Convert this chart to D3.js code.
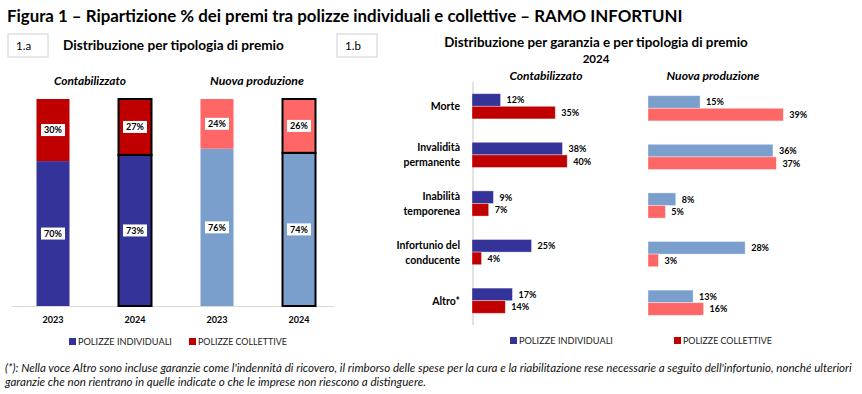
<!DOCTYPE html>
<html>
<head>
<meta charset="utf-8">
<script src="https://cdn.jsdelivr.net/npm/d3@7"></script>
<style>
  body { margin: 0; background: #fff; }
  svg { display: block; }
</style>
</head>
<body>
<script>
const width = 862
const height = 394
const font = 'Lato, "Open Sans", sans-serif'

// 1.a data
const barKeys = ['c2023', 'c2024', 'n2023', 'n2024']
const barYears = ['2023', '2024', '2023', '2024']
const individuali1a = [70, 73, 76, 74]
const collettive1a = [30, 27, 24, 26]

// 1.b data
const categories = ['Morte', 'Invalidità permanente', 'Inabilità temporenea', 'Infortunio del conducente', 'Altro*']
const categoryLines = [['Morte'], ['Invalidità', 'permanente'], ['Inabilità', 'temporenea'], ['Infortunio del', 'conducente'], ['Altro*']]
const contIndividuali = [12, 38, 9, 25, 17]
const contCollettive = [35, 40, 7, 4, 14]
const nuovaIndividuali = [15, 36, 8, 28, 13]
const nuovaCollettive = [39, 37, 5, 3, 16]

const colDarkBlue = '#333399'
const colRed = '#C00000'
const colLightBlue = '#7A9FCD'
const colSalmon = '#FF6666'

const svg = d3.select('body').append('svg')
    .attr('width', width)
    .attr('height', height)

// shrink/grow the font size until the text is as wide as target
function fitWidth(sel, target) {
    let w = sel.node().getComputedTextLength()
    let fs = parseFloat(sel.attr('font-size'))
    sel.attr('font-size', fs * target / w)
    return sel
}

function addText(x, y, txt, size, opts = {}) {
    const t = svg.append('text')
        .attr('x', x)
        .attr('y', y)
        .attr('font-family', font)
        .attr('font-size', size)
        .attr('font-weight', opts.weight || 'normal')
        .attr('font-style', opts.style || 'normal')
        .attr('text-anchor', opts.anchor || 'start')
        .attr('fill', opts.fill || '#000')
        .text(txt)
    if (opts.fit) fitWidth(t, opts.fit)
    return t
}

// Title
addText(7, 22, 'Figura 1 – Ripartizione % dei premi tra polizze individuali e collettive – RAMO INFORTUNI', 17, {weight: 'bold', fit: 676})

// Panel tags
function tagBox(x, label) {
    svg.append('rect')
        .attr('x', x).attr('y', 34)
        .attr('width', 40).attr('height', 23)
        .attr('fill', '#fff')
        .attr('stroke', '#d0d0d0')
        .attr('stroke-width', 1)
    addText(x + 8, 50, label, 11.5)
}
tagBox(8, '1.a')
tagBox(337, '1.b')

// ---------- 1.a stacked columns ----------
addText(63, 50, 'Distribuzione per tipologia di premio', 11.5, {weight: 'bold', fit: 221})
addText(90, 85, 'Contabilizzato', 10, {weight: 'bold', style: 'italic', anchor: 'middle', fit: 72})
addText(257, 85, 'Nuova produzione', 10, {weight: 'bold', style: 'italic', anchor: 'middle', fit: 94})

const x1 = d3.scaleBand().domain(barKeys).range([12, 340])
const y1 = d3.scaleLinear().domain([0, 100]).range([306, 99])
const barW = 33

svg.append('line')
    .attr('x1', 12).attr('x2', 334)
    .attr('y1', y1(0) + 0.5).attr('y2', y1(0) + 0.5)
    .attr('stroke', '#d9d9d9')
    .attr('stroke-width', 1.2)

barKeys.forEach((k, i) => {
    const bx = x1(k) + (x1.bandwidth() - barW) / 2
    const isNuova = k[0] === 'n'
    const bordered = barYears[i] === '2024'
    const segs = [
        {v0: 0, v1: individuali1a[i], c: isNuova ? colLightBlue : colDarkBlue, v: individuali1a[i]},
        {v0: individuali1a[i], v1: individuali1a[i] + collettive1a[i], c: isNuova ? colSalmon : colRed, v: collettive1a[i]}
    ]
    segs.forEach(s => {
        svg.append('rect')
            .attr('x', bx)
            .attr('y', y1(s.v1))
            .attr('width', barW)
            .attr('height', y1(s.v0) - y1(s.v1))
            .attr('fill', s.c)
            .attr('stroke', bordered ? '#000' : 'none')
            .attr('stroke-width', 2)
        const cy = (y1(s.v0) + y1(s.v1)) / 2
        svg.append('rect')
            .attr('x', bx + barW / 2 - 12)
            .attr('y', cy - 6)
            .attr('width', 24)
            .attr('height', 12)
            .attr('fill', '#fff')
        addText(bx + barW / 2, cy + 3.3, s.v + '%', 9, {weight: 'bold', anchor: 'middle'})
    })
    addText(bx + barW / 2, 323, barYears[i], 9, {weight: 'bold', anchor: 'middle'})
})

// legend helper
function legend(x1s, x2s, y) {
    svg.append('rect').attr('x', x1s).attr('y', y - 6).attr('width', 7).attr('height', 7).attr('fill', colDarkBlue)
    addText(x1s + 9, y + 1, 'POLIZZE INDIVIDUALI', 9.5, {fit: 94, fill: '#222'})
    svg.append('rect').attr('x', x2s).attr('y', y - 6).attr('width', 7).attr('height', 7).attr('fill', colRed)
    addText(x2s + 9, y + 1, 'POLIZZE COLLETTIVE', 9.5, {fit: 89, fill: '#222'})
}
legend(69, 189, 344)
legend(510, 674, 343)

// ---------- 1.b horizontal bars ----------
addText(596, 47, 'Distribuzione per garanzia e per tipologia di premio', 11.5, {weight: 'bold', anchor: 'middle', fit: 304})
addText(596, 63, '2024', 11.5, {weight: 'bold', anchor: 'middle'})
addText(546, 80, 'Contabilizzato', 10, {weight: 'bold', style: 'italic', anchor: 'middle', fit: 73})
addText(713, 80, 'Nuova produzione', 10, {weight: 'bold', style: 'italic', anchor: 'middle', fit: 93})

const yCat = d3.scaleBand().domain(categories).range([82, 325])
const barH = 12.6
const xCont = d3.scaleLinear().domain([0, 100]).range([472, 710])
const xNuova = d3.scaleLinear().domain([0, 100]).range([648, 995])

svg.append('line')
    .attr('x1', 473).attr('x2', 473)
    .attr('y1', 82).attr('y2', 325)
    .attr('stroke', '#d9d9d9')
    .attr('stroke-width', 1.5)

categories.forEach((c, i) => {
    const cy = yCat(c) + yCat.bandwidth() / 2
    const lines = categoryLines[i]
    lines.forEach((ln, j) => {
        const off = lines.length === 1 ? 0 : (j === 0 ? -7.5 : 7.5)
        addText(460, cy + off + 4, ln, 10.5, {weight: 'bold', anchor: 'end'})
    })
})

function hbars(xs, vals1, vals2, c1, c2, shift) {
    categories.forEach((c, i) => {
        const cy = yCat(c) + yCat.bandwidth() / 2 + shift
        const rows = [[vals1[i], c1, cy - barH], [vals2[i], c2, cy]]
        rows.forEach(r => {
            svg.append('rect')
                .attr('x', xs(0))
                .attr('y', r[2])
                .attr('width', xs(r[0]) - xs(0))
                .attr('height', barH)
                .attr('fill', r[1])
                .attr('stroke', 'rgba(255,255,255,0.45)')
                .attr('stroke-width', 0.8)
            addText(xs(r[0]) + 6, r[2] + barH / 2 + 3.3, r[0] + '%', 9, {weight: 'bold'})
        })
    })
}
hbars(xCont, contIndividuali, contCollettive, colDarkBlue, colRed, 0)
hbars(xNuova, nuovaIndividuali, nuovaCollettive, colLightBlue, colSalmon, 2)

// footnote
addText(5, 372, "(*): Nella voce Altro sono incluse garanzie come l'indennità di ricovero, il rimborso delle spese per la cura e la riabilitazione rese necessarie a seguito dell'infortunio, nonché ulteriori", 10.5, {style: 'italic', fit: 848, fill: '#111'})
addText(5, 386, 'garanzie che non rientrano in quelle indicate o che le imprese non riescono a distinguere.', 10.5, {style: 'italic', fill: '#111'})
  .call(t => t.attr('font-size', svg.selectAll('text').filter((d, i, n) => n[i].textContent.startsWith('(*)')).attr('font-size')))
</script>
</body>
</html>
